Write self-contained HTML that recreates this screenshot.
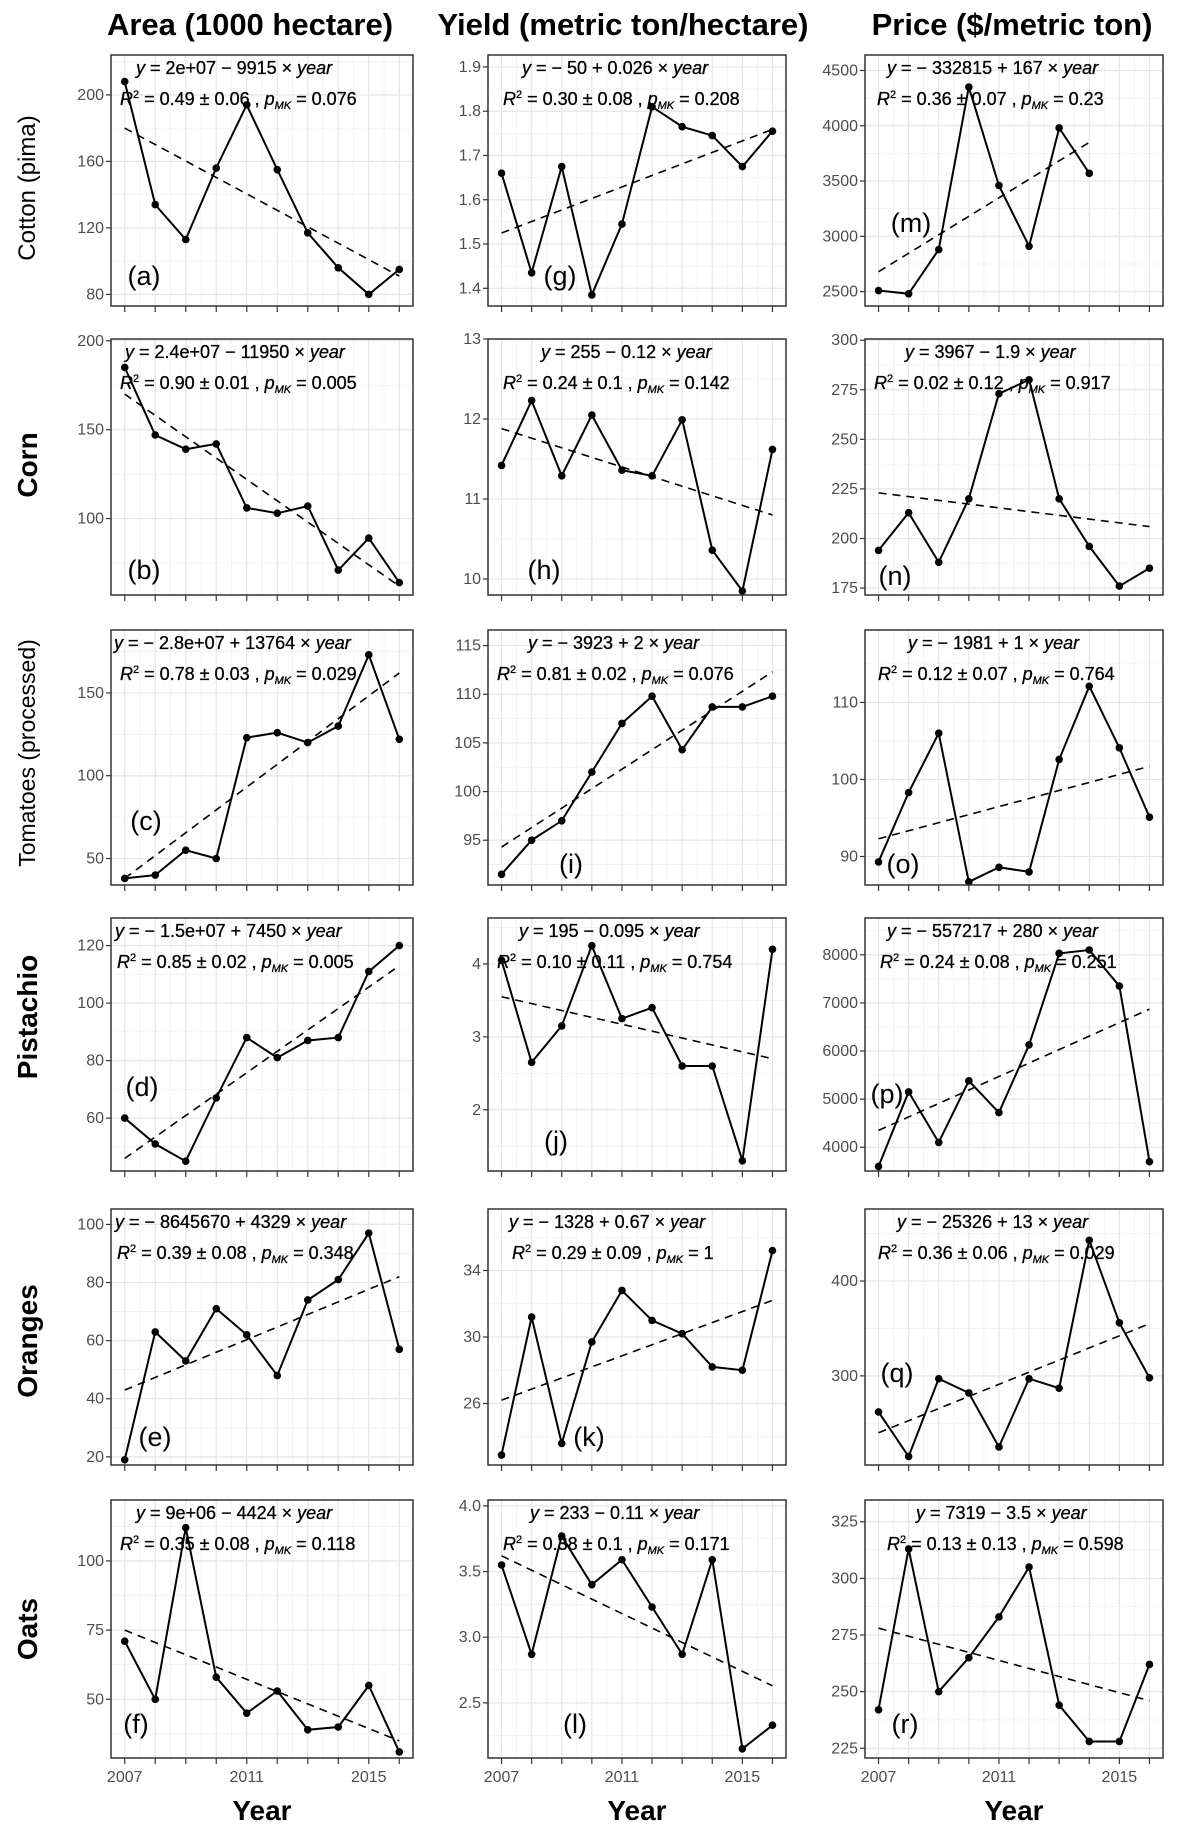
<!DOCTYPE html>
<html><head><meta charset="utf-8"><style>
html,body{margin:0;padding:0;background:#fff;}
svg{display:block;font-family:"Liberation Sans",sans-serif;}
</style></head><body>
<svg id="chart" width="1181" height="1835" viewBox="0 0 1181 1835" xmlns="http://www.w3.org/2000/svg">
<g font-weight="bold" font-size="31" text-anchor="middle" fill="#000">
<text x="250" y="35">Area (1000 hectare)</text>
<text x="623" y="35">Yield (metric ton/hectare)</text>
<text x="1012" y="35">Price ($/metric ton)</text>
</g>
<g font-weight="bold" text-anchor="middle" fill="#000">
<text font-size="24" font-weight="normal" transform="translate(35,188) rotate(-90)">Cotton (pima)</text>
<text font-size="28" transform="translate(37,465) rotate(-90)">Corn</text>
<text font-size="23" font-weight="normal" transform="translate(35,753) rotate(-90)">Tomatoes (processed)</text>
<text font-size="28" transform="translate(37,1017) rotate(-90)">Pistachio</text>
<text font-size="28" transform="translate(37,1341) rotate(-90)">Oranges</text>
<text font-size="28" transform="translate(37,1629) rotate(-90)">Oats</text>
</g>
<g id="panels"></g>
</svg>
<script>
const years = [2007,2008,2009,2010,2011,2012,2013,2014,2015,2016];
const xTickLabels = [2007,2011,2015];
// Area
const cottonArea = [208,134,113,156,194,155,117,96,80,95];
const cornArea = [185,147,139,142,106,103,107,71,89,64];
const tomatoArea = [38,40,55,50,123,126,120,130,173,122];
const pistachioArea = [60,51,45,67,88,81,87,88,111,120];
const orangeArea = [19,63,53,71,62,48,74,81,97,57];
const oatsArea = [71,50,112,58,45,53,39,40,55,31];
// Yield
const cottonYield = [1.66,1.435,1.675,1.385,1.545,1.81,1.765,1.745,1.675,1.755];
const cornYield = [11.42,12.23,11.29,12.05,11.36,11.29,11.99,10.36,9.85,11.62];
const tomatoYield = [91.5,95,97,102,107,109.8,104.3,108.7,108.7,109.8];
const pistachioYield = [4.05,2.65,3.15,4.25,3.25,3.4,2.6,2.6,1.3,4.2];
const orangeYield = [22.9,31.2,23.6,29.7,32.8,31.0,30.2,28.2,28.0,35.2];
const oatsYield = [3.55,2.87,3.77,3.40,3.59,3.23,2.87,3.59,2.15,2.33];
// Price
const cottonPrice = [2510,2480,2880,4350,3460,2910,3980,3570];
const cornPrice = [194,213,188,220,273,280,220,196,176,185];
const tomatoPrice = [89.3,98.3,106,86.7,88.6,88.0,102.6,112.1,104.1,95.1];
const pistachioPrice = [3600,5150,4100,5380,4720,6130,8030,8100,7350,3700];
const orangePrice = [262,215,297,282,225,297,287,443,356,298];
const oatsPrice = [242,313,250,265,283,305,244,228,228,262];
// Trend line fitted values at first and last year
const trendA = [180,91], trendB = [170,62], trendC = [38,162], trendD = [46,113], trendE = [43,82], trendF = [75,35];
const trendG = [1.525,1.759], trendH = [11.88,10.80], trendI = [94.3,112.3], trendJ = [3.55,2.70], trendK = [26.2,32.2], trendL = [3.62,2.63];
const trendM = [2680,3850], trendN = [223,206], trendO = [92.3,101.7], trendP = [4350,6870], trendQ = [240,355], trendR = [278,246];
// Y tick labels
const ticksA=[80,120,160,200], ticksB=[100,150,200], ticksC=[50,100,150], ticksD=[60,80,100,120], ticksE=[20,40,60,80,100], ticksF=[50,75,100];
const ticksG=[1.4,1.5,1.6,1.7,1.8,1.9], ticksH=[10,11,12,13], ticksI=[95,100,105,110,115], ticksJ=[2,3,4], ticksK=[26,30,34], ticksL=[2.5,3.0,3.5,4.0];
const ticksM=[2500,3000,3500,4000,4500], ticksN=[175,200,225,250,275,300], ticksO=[90,100,110], ticksP=[4000,5000,6000,7000,8000], ticksQ=[300,400], ticksR=[225,250,275,300,325];
const tickFmt = {g:1,l:1};

const rowTop=[55,339,630,918,1209,1500], rowBot=[306,595,885,1171,1465,1758];
const colL=[111,488,865], colR=[413,786,1163];
const NS="http://www.w3.org/2000/svg";

function eq1(t){return '<tspan font-style="italic">y</tspan> = '+t+' × <tspan font-style="italic">year</tspan>';}
function eq2(r,p){return '<tspan font-style="italic">R</tspan><tspan dy="-7" font-size="11">2</tspan><tspan dy="7"> = '+r+' , </tspan><tspan font-style="italic">p</tspan><tspan dy="4" font-size="11" font-style="italic">MK</tspan><tspan dy="-4"> = '+p+'</tspan>';}

const panels=[
{id:'a',name:'cotton-area',r:0,c:0,v:cottonArea,t:trendA,k:ticksA,d:[73,224],e1:'2e+07 − 9915',e2:['0.49 ± 0.06','0.076'],x1:25,x2:9,lab:[144,276]},
{id:'b',name:'corn-area',r:1,c:0,v:cornArea,t:trendB,k:ticksB,d:[57,201],e1:'2.4e+07 − 11950',e2:['0.90 ± 0.01','0.005'],x1:14,x2:9,lab:[144,570]},
{id:'c',name:'tomato-area',r:2,c:0,v:tomatoArea,t:trendC,k:ticksC,d:[34,188],e1:'− 2.8e+07 + 13764',e2:['0.78 ± 0.03','0.029'],x1:3,x2:9,lab:[146,821]},
{id:'d',name:'pistachio-area',r:3,c:0,v:pistachioArea,t:trendD,k:ticksD,d:[41.6,129.6],e1:'− 1.5e+07 + 7450',e2:['0.85 ± 0.02','0.005'],x1:4,x2:6,lab:[142,1087]},
{id:'e',name:'orange-area',r:4,c:0,v:orangeArea,t:trendE,k:ticksE,d:[17.2,105.3],e1:'− 8645670 + 4329',e2:['0.39 ± 0.08','0.348'],x1:4,x2:6,lab:[155,1437]},
{id:'f',name:'oats-area',r:5,c:0,v:oatsArea,t:trendF,k:ticksF,d:[28.8,122],e1:'9e+06 − 4424',e2:['0.35 ± 0.08','0.118'],x1:25,x2:9,lab:[136,1724]},
{id:'g',name:'cotton-yield',r:0,c:1,v:cottonYield,t:trendG,k:ticksG,d:[1.36,1.927],e1:'− 50 + 0.026',e2:['0.30 ± 0.08','0.208'],x1:34,x2:15,lab:[560,276]},
{id:'h',name:'corn-yield',r:1,c:1,v:cornYield,t:trendH,k:ticksH,d:[9.8,13.0],e1:'255 − 0.12',e2:['0.24 ± 0.1','0.142'],x1:53,x2:15,lab:[544,570]},
{id:'i',name:'tomato-yield',r:2,c:1,v:tomatoYield,t:trendI,k:ticksI,d:[90.4,116.6],e1:'− 3923 + 2',e2:['0.81 ± 0.02','0.076'],x1:40,x2:9,lab:[571,864]},
{id:'j',name:'pistachio-yield',r:3,c:1,v:pistachioYield,t:trendJ,k:ticksJ,d:[1.16,4.63],e1:'195 − 0.095',e2:['0.10 ± 0.11','0.754'],x1:31,x2:9,lab:[556,1141]},
{id:'k',name:'orange-yield',r:4,c:1,v:orangeYield,t:trendK,k:ticksK,d:[22.3,37.7],e1:'− 1328 + 0.67',e2:['0.29 ± 0.09','1'],x1:21,x2:24,lab:[589,1437]},
{id:'l',name:'oats-yield',r:5,c:1,v:oatsYield,t:trendL,k:ticksL,d:[2.08,4.045],e1:'233 − 0.11',e2:['0.38 ± 0.1','0.171'],x1:42,x2:15,lab:[575,1724]},
{id:'m',name:'cotton-price',r:0,c:2,v:cottonPrice,t:trendM,k:ticksM,d:[2370,4640],e1:'− 332815 + 167',e2:['0.36 ± 0.07','0.23'],x1:22,x2:12,lab:[911,223]},
{id:'n',name:'corn-price',r:1,c:2,v:cornPrice,t:trendN,k:ticksN,d:[171.5,300.6],e1:'3967 − 1.9',e2:['0.02 ± 0.12','0.917'],x1:40,x2:9,lab:[895,576]},
{id:'o',name:'tomato-price',r:2,c:2,v:tomatoPrice,t:trendO,k:ticksO,d:[86.3,119.4],e1:'− 1981 + 1',e2:['0.12 ± 0.07','0.764'],x1:43,x2:13,lab:[903,864]},
{id:'p',name:'pistachio-price',r:3,c:2,v:pistachioPrice,t:trendP,k:ticksP,d:[3506,8765],e1:'− 557217 + 280',e2:['0.24 ± 0.08','0.251'],x1:22,x2:15,lab:[887,1094]},
{id:'q',name:'orange-price',r:4,c:2,v:orangePrice,t:trendQ,k:ticksQ,d:[206,476],e1:'− 25326 + 13',e2:['0.36 ± 0.06','0.029'],x1:32,x2:13,lab:[897,1373]},
{id:'r',name:'oats-price',r:5,c:2,v:oatsPrice,t:trendR,k:ticksR,d:[220.7,334.6],e1:'7319 − 3.5',e2:['0.13 ± 0.13','0.598'],x1:51,x2:22,lab:[905,1724]}
];

function mk(tag,attrs,parent){const e=document.createElementNS(NS,tag);for(const a in attrs)e.setAttribute(a,attrs[a]);parent.appendChild(e);return e;}
const root=document.getElementById('panels');
panels.forEach(P=>{
  const L=colL[P.c],R=colR[P.c],T=rowTop[P.r],B=rowBot[P.r];
  const xs=y=>L+(y-2006.55)/(2016.45-2006.55)*(R-L);
  const ys=v=>B-(v-P.d[0])/(P.d[1]-P.d[0])*(B-T);
  const g=mk('g',{},root);
  
  
  const grid=mk('g',{},g);
  
  
  for(let yr=2007;yr<=2016;yr+=0.5){const x=xs(yr);if(x<L||x>R)continue;mk('line',{x1:x,x2:x,y1:T,y2:B,stroke:Number.isInteger(yr)?'#e6e6e6':'#f1f1f1','stroke-width':Number.isInteger(yr)?1.2:0.8},grid);}
  const step=P.k.length>1?P.k[1]-P.k[0]:100;
  for(let v=P.k[0]-step*3;v<=P.k[P.k.length-1]+step*3;v+=step/2){const y=ys(v);if(y<T||y>B)continue;const major=P.k.some(t=>Math.abs(t-v)<step*0.01);mk('line',{x1:L,x2:R,y1:y,y2:y,stroke:major?'#e6e6e6':'#f1f1f1','stroke-width':major?1.2:0.8},grid);}
  P.k.forEach(t=>{const y=ys(t);
    mk('line',{x1:L-5,x2:L,y1:y,y2:y,stroke:'#333','stroke-width':1.2},g);
    const tx=mk('text',{x:L-7,y:y+5,'text-anchor':'end','font-size':16,fill:'#4d4d4d'},g);
    
    
    tx.textContent=(tickFmt[P.id]?t.toFixed(1):String(t));
  });
  years.forEach(yr=>{const x=xs(yr);mk('line',{x1:x,x2:x,y1:B,y2:B+6,stroke:'#333','stroke-width':1.2},g);});
  if(P.r===5){xTickLabels.forEach(yr=>{
    const tx=mk('text',{x:xs(yr),y:B+24,'text-anchor':'middle','font-size':16,fill:'#4d4d4d'},g);
    
    
    tx.textContent=yr;});
    const yt=mk('text',{x:(L+R)/2,y:1820,'text-anchor':'middle','font-size':28,'font-weight':'bold',fill:'#000'},g);
    
    
    yt.textContent='Year';
  }
  const n=P.v.length;
  const tl=mk('line',{x1:xs(years[0]),y1:ys(P.t[0]),x2:xs(years[n-1]),y2:ys(P.t[1]),stroke:'#000','stroke-width':1.6,'stroke-dasharray':'8,6'},g);
  
  
  const pts=P.v.map((v,i)=>xs(years[i]).toFixed(1)+','+ys(v).toFixed(1)).join(' ');
  const pl=mk('polyline',{points:pts,fill:'none',stroke:'#000','stroke-width':2},g);
  
  
  P.v.forEach((v,i)=>{const c=mk('circle',{cx:xs(years[i]),cy:ys(v),r:3.8,fill:'#000'},g);
    
    });
  const t1=mk('text',{x:L+P.x1,y:T+19,'font-size':18,fill:'#000',stroke:'#000','stroke-width':0.3},g);
  
  
  t1.innerHTML=eq1(P.e1);
  const t2=mk('text',{x:L+P.x2,y:T+50,'font-size':18,fill:'#000',stroke:'#000','stroke-width':0.3},g);
  
  
  t2.innerHTML=eq2(P.e2[0],P.e2[1]);
  const lb=mk('text',{x:P.lab[0],y:P.lab[1]+9,'text-anchor':'middle','font-size':27,fill:'#000'},g);
  
  
  lb.textContent='('+P.id+')';
  const fr=mk('rect',{x:L,y:T,width:R-L,height:B-T,fill:'none',stroke:'#333','stroke-width':1.5},g);
  
  
});
</script>
</body></html>
